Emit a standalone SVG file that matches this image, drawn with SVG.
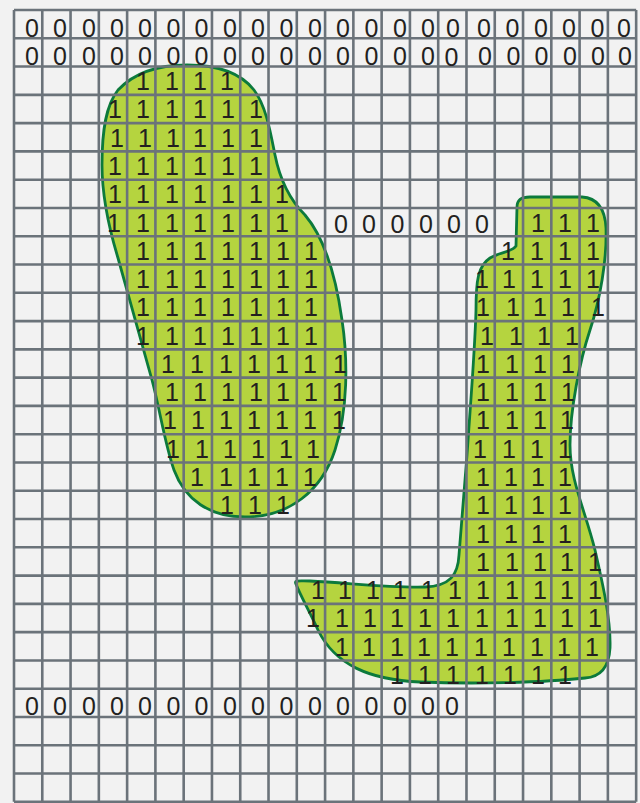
<svg xmlns="http://www.w3.org/2000/svg" width="640" height="803" viewBox="0 0 640 803">
<style>
.bg{fill:#f2f2f2}
.blob{fill:#b5d43f;stroke:#0c7a3c;stroke-width:2.8;stroke-linejoin:round}
.grid{fill:none;stroke:#6b737a;stroke-width:2.6}
text{font-family:"Liberation Sans",Arial,sans-serif;font-size:25px;fill:#231f20;text-anchor:middle}
</style>
<rect class="bg" x="0" y="0" width="640" height="803"/>
<g id="blob-left">
<path class="blob" d="M187,65 C215,65 240,72 254,90 C266,106 270,130 275,155 C280,180 290,200 305,215 C322,235 335,270 342,320 C348,360 348,410 335,450 C322,490 290,517 245,517 C210,517 185,500 174,470 C165,445 160,410 152,380 L118,258 C108,225 102,195 102,165 C102,130 106,105 118,90 C135,72 160,65 187,65 Z"/>
</g>
<g id="blob-right">
<path class="blob" d="M530,197 L582,197 C597,198 605,208 606,228 C607,260 600,300 590,330 C580,360 570,410 570,445 C570,480 585,510 595,550 C603,585 611,620 610,648 C609,668 600,677 585,678 C540,683 470,684 420,682 C370,680 335,665 318,630 C310,612 300,595 296,584 C294,580 298,581 310,581 C350,583 390,588 425,587 C450,586 458,575 459,555 L467,455 C470,410 475,350 476,310 C476,280 478,266 490,258 C500,252 512,252 516,246 L517,207 C517,200 521,197 530,197 Z"/>
</g>
<g id="grid">
<path class="grid" d="M14,10V801.8M42.28,10V801.8M70.56,10V801.8M98.84,10V801.8M127.12,10V801.8M155.4,10V801.8M183.68,10V801.8M211.96,10V801.8M240.24,10V801.8M268.52,10V801.8M296.8,10V801.8M325.08,10V801.8M353.36,10V801.8M381.64,10V801.8M409.92,10V801.8M438.2,10V801.8M466.48,10V801.8M494.76,10V801.8M523.04,10V801.8M551.32,10V801.8M579.6,10V801.8M607.88,10V801.8M636.16,10V801.8
M14,10H636.16M14,38.28H636.16M14,66.56H636.16M14,94.84H636.16M14,123.12H636.16M14,151.4H636.16M14,179.68H636.16M14,207.96H636.16M14,236.24H636.16M14,264.52H636.16M14,292.8H636.16M14,321.08H636.16M14,349.36H636.16M14,377.64H636.16M14,405.92H636.16M14,434.2H636.16M14,462.48H636.16M14,490.76H636.16M14,519.04H636.16M14,547.32H636.16M14,575.6H636.16M14,603.88H636.16M14,632.16H636.16M14,660.44H636.16M14,688.72H636.16M14,717H636.16M14,745.28H636.16M14,773.56H636.16M14,801.84H636.16"/>
</g>
<g id="zeros-row0">
<text x="32" y="36.5">0</text><text x="60" y="36.5">0</text><text x="89" y="36.5">0</text><text x="117" y="36.5">0</text><text x="145" y="36.5">0</text><text x="173.5" y="36.5">0</text><text x="201.5" y="36.5">0</text><text x="230" y="36.5">0</text><text x="258" y="36.5">0</text><text x="286.5" y="36.5">0</text><text x="315" y="36.5">0</text><text x="343" y="36.5">0</text><text x="371.5" y="36.5">0</text><text x="400" y="36.5">0</text><text x="428" y="36.5">0</text><text x="453" y="36.5">0</text><text x="484" y="36.5">0</text><text x="512.5" y="36.5">0</text><text x="541" y="36.5">0</text><text x="569" y="36.5">0</text><text x="597.5" y="36.5">0</text><text x="624" y="36.5">0</text>
</g>
<g id="zeros-row1">
<text x="32" y="64.8">0</text><text x="60" y="64.8">0</text><text x="89" y="64.8">0</text><text x="117" y="64.8">0</text><text x="145" y="64.8">0</text><text x="173.5" y="64.8">0</text><text x="201.5" y="64.8">0</text><text x="230" y="64.8">0</text><text x="258" y="64.8">0</text><text x="286.5" y="64.8">0</text><text x="315" y="64.8">0</text><text x="343" y="64.8">0</text><text x="371.5" y="64.8">0</text><text x="400" y="64.8">0</text><text x="428" y="64.8">0</text><text x="451.5" y="65.5">0</text><text x="485" y="64.8">0</text><text x="513.5" y="64.8">0</text><text x="541.5" y="64.8">0</text><text x="570" y="64.8">0</text><text x="598" y="64.8">0</text><text x="625" y="64.8">0</text>
</g>
<g id="zeros-row7">
<text x="341" y="233.3">0</text><text x="369" y="233.3">0</text><text x="397.5" y="233.3">0</text><text x="426" y="233.3">0</text><text x="454" y="233.3">0</text><text x="482" y="233.3">0</text>
</g>
<g id="zeros-row24">
<text x="32" y="715">0</text><text x="60" y="715">0</text><text x="89" y="715">0</text><text x="117" y="715">0</text><text x="145" y="715">0</text><text x="173.5" y="715">0</text><text x="201.5" y="715">0</text><text x="230" y="715">0</text><text x="258" y="715">0</text><text x="286.5" y="715">0</text><text x="315" y="715">0</text><text x="343" y="715">0</text><text x="371.5" y="715">0</text><text x="400" y="715">0</text><text x="428" y="715">0</text><text x="452" y="715">0</text>
</g>
<g id="ones-left">
<text x="143" y="90">1</text><text x="172" y="90">1</text><text x="200" y="90">1</text><text x="227" y="90">1</text>
<text x="115" y="118.3">1</text><text x="143" y="118.3">1</text><text x="172" y="118.3">1</text><text x="200" y="118.3">1</text><text x="228" y="118.3">1</text><text x="256" y="118.3">1</text>
<text x="117" y="146.6">1</text><text x="145" y="146.6">1</text><text x="173" y="146.6">1</text><text x="200" y="146.6">1</text><text x="228" y="146.6">1</text><text x="256" y="146.6">1</text>
<text x="115" y="174.9">1</text><text x="143" y="174.9">1</text><text x="172" y="174.9">1</text><text x="200" y="174.9">1</text><text x="228" y="174.9">1</text><text x="256" y="174.9">1</text>
<text x="115" y="203.2">1</text><text x="143" y="203.2">1</text><text x="172" y="203.2">1</text><text x="200" y="203.2">1</text><text x="228" y="203.2">1</text><text x="256" y="203.2">1</text><text x="282" y="203.2">1</text>
<text x="114" y="231.5">1</text><text x="143" y="231.5">1</text><text x="172" y="231.5">1</text><text x="200" y="231.5">1</text><text x="228" y="231.5">1</text><text x="256" y="231.5">1</text><text x="282" y="231.5">1</text>
<text x="143" y="259.7">1</text><text x="172" y="259.7">1</text><text x="200" y="259.7">1</text><text x="228" y="259.7">1</text><text x="256" y="259.7">1</text><text x="283" y="259.7">1</text><text x="311" y="259.7">1</text>
<text x="143" y="288">1</text><text x="172" y="288">1</text><text x="200" y="288">1</text><text x="228" y="288">1</text><text x="256" y="288">1</text><text x="283" y="288">1</text><text x="311" y="288">1</text>
<text x="143" y="316.3">1</text><text x="172" y="316.3">1</text><text x="200" y="316.3">1</text><text x="228" y="316.3">1</text><text x="256" y="316.3">1</text><text x="283" y="316.3">1</text><text x="311" y="316.3">1</text>
<text x="143" y="344.6">1</text><text x="172" y="344.6">1</text><text x="200" y="344.6">1</text><text x="228" y="344.6">1</text><text x="256" y="344.6">1</text><text x="283" y="344.6">1</text><text x="311" y="344.6">1</text>
<text x="168" y="372.9">1</text><text x="197" y="372.9">1</text><text x="226" y="372.9">1</text><text x="254" y="372.9">1</text><text x="282" y="372.9">1</text><text x="310" y="372.9">1</text><text x="340" y="372.9">1</text>
<text x="172" y="401.1">1</text><text x="200" y="401.1">1</text><text x="228" y="401.1">1</text><text x="256" y="401.1">1</text><text x="283" y="401.1">1</text><text x="311" y="401.1">1</text><text x="339" y="401.1">1</text>
<text x="170" y="429.4">1</text><text x="198" y="429.4">1</text><text x="226" y="429.4">1</text><text x="254" y="429.4">1</text><text x="282" y="429.4">1</text><text x="310" y="429.4">1</text><text x="339" y="429.4">1</text>
<text x="173" y="457.7">1</text><text x="202" y="457.7">1</text><text x="230" y="457.7">1</text><text x="258" y="457.7">1</text><text x="286" y="457.7">1</text><text x="313" y="457.7">1</text>
<text x="197" y="486">1</text><text x="226" y="486">1</text><text x="254" y="486">1</text><text x="282" y="486">1</text><text x="310" y="486">1</text>
<text x="227" y="514.3">1</text><text x="255" y="514.3">1</text><text x="283" y="514.3">1</text>
</g>
<g id="ones-right">
<text x="538" y="231.5">1</text><text x="565" y="231.5">1</text><text x="593" y="231.5">1</text>
<text x="508" y="259.7">1</text><text x="537" y="259.7">1</text><text x="565" y="259.7">1</text><text x="593" y="259.7">1</text>
<text x="482" y="288">1</text><text x="509" y="288">1</text><text x="537" y="288">1</text><text x="565" y="288">1</text><text x="593" y="288">1</text>
<text x="483" y="316.3">1</text><text x="513" y="316.3">1</text><text x="540" y="316.3">1</text><text x="568" y="316.3">1</text><text x="598" y="316.3">1</text>
<text x="487" y="344.6">1</text><text x="516" y="344.6">1</text><text x="544" y="344.6">1</text><text x="572" y="344.6">1</text>
<text x="483" y="372.9">1</text><text x="512" y="372.9">1</text><text x="540" y="372.9">1</text><text x="568" y="372.9">1</text>
<text x="483" y="401.1">1</text><text x="512" y="401.1">1</text><text x="540" y="401.1">1</text><text x="568" y="401.1">1</text>
<text x="483" y="429.4">1</text><text x="512" y="429.4">1</text><text x="540" y="429.4">1</text><text x="567" y="429.4">1</text>
<text x="480" y="457.7">1</text><text x="509" y="457.7">1</text><text x="537" y="457.7">1</text><text x="565" y="457.7">1</text>
<text x="483" y="486">1</text><text x="511" y="486">1</text><text x="538" y="486">1</text><text x="565" y="486">1</text>
<text x="483" y="514.3">1</text><text x="511" y="514.3">1</text><text x="538" y="514.3">1</text><text x="565" y="514.3">1</text>
<text x="483" y="542.5">1</text><text x="511" y="542.5">1</text><text x="538" y="542.5">1</text><text x="565" y="542.5">1</text>
<text x="483" y="570.8">1</text><text x="512" y="570.8">1</text><text x="540" y="570.8">1</text><text x="567" y="570.8">1</text><text x="595" y="570.8">1</text>
<text x="318" y="599.1">1</text><text x="345" y="599.1">1</text><text x="373" y="599.1">1</text><text x="400" y="599.1">1</text><text x="428" y="599.1">1</text><text x="455" y="599.1">1</text><text x="483" y="599.1">1</text><text x="512" y="599.1">1</text><text x="540" y="599.1">1</text><text x="567" y="599.1">1</text><text x="595" y="599.1">1</text>
<text x="313" y="627.4">1</text><text x="342" y="627.4">1</text><text x="370" y="627.4">1</text><text x="397" y="627.4">1</text><text x="425" y="627.4">1</text><text x="453" y="627.4">1</text><text x="482" y="627.4">1</text><text x="512" y="627.4">1</text><text x="540" y="627.4">1</text><text x="567" y="627.4">1</text><text x="595" y="627.4">1</text>
<text x="342" y="655.7">1</text><text x="369" y="655.7">1</text><text x="397" y="655.7">1</text><text x="424" y="655.7">1</text><text x="452" y="655.7">1</text><text x="481" y="655.7">1</text><text x="509" y="655.7">1</text><text x="537" y="655.7">1</text><text x="564" y="655.7">1</text><text x="592" y="655.7">1</text>
<text x="397" y="683.9">1</text><text x="425" y="683.9">1</text><text x="453" y="683.9">1</text><text x="482" y="683.9">1</text><text x="510" y="683.9">1</text><text x="538" y="683.9">1</text><text x="565" y="683.9">1</text>
</g>
</svg>
